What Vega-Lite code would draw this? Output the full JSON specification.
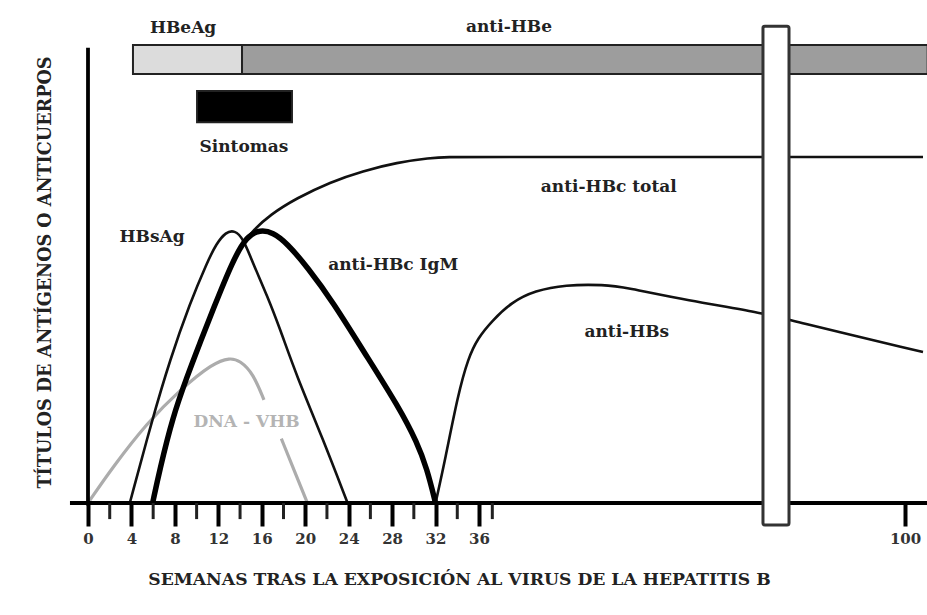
{
  "$schema": "https://vega.github.io/schema/vega-lite/v6.json",
  "width": 839,
  "height": 503,
  "autosize": {"type": "none"},
  "padding": {"left": 88, "top": 0, "right": 0, "bottom": 112},
  "background": "white",
  "config": {"view": {"stroke": null}, "font": "DejaVu Serif"},
  "datasets": {
    "bars": [
      {"name": "HBeAg", "w": 4.14, "w2": 14.18, "v": 91.05, "v2": 85.3, "fill": "#dcdcdc"},
      {"name": "anti-HBe", "w": 14.18, "w2": 103.4, "v": 91.05, "v2": 85.3, "fill": "#9d9d9d"},
      {"name": "Sintomas", "w": 10.04, "w2": 18.78, "v": 81.9, "v2": 75.7, "fill": "#000000"}
    ],
    "curves": [
      {"s": "HBsAg", "g": "a", "w": 3.85, "v": 0},
      {"s": "HBsAg", "g": "a", "w": 5.9, "v": 16.5},
      {"s": "HBsAg", "g": "a", "w": 7.55, "v": 28.5},
      {"s": "HBsAg", "g": "a", "w": 9.4, "v": 39.8},
      {"s": "HBsAg", "g": "a", "w": 10.96, "v": 47.8},
      {"s": "HBsAg", "g": "a", "w": 11.8, "v": 51.5},
      {"s": "HBsAg", "g": "a", "w": 12.7, "v": 53.9},
      {"s": "HBsAg", "g": "a", "w": 13.5, "v": 54.2},
      {"s": "HBsAg", "g": "a", "w": 14.27, "v": 52.7},
      {"s": "HBsAg", "g": "a", "w": 15.2, "v": 47.6},
      {"s": "HBsAg", "g": "a", "w": 16.5, "v": 41.2},
      {"s": "HBsAg", "g": "a", "w": 17.7, "v": 34.5},
      {"s": "HBsAg", "g": "a", "w": 19.2, "v": 25.3},
      {"s": "HBsAg", "g": "a", "w": 21.6, "v": 12.9},
      {"s": "HBsAg", "g": "a", "w": 23.9, "v": 0},

      {"s": "DNA", "g": "a", "w": 0, "v": 0},
      {"s": "DNA", "g": "a", "w": 2.3, "v": 7.2},
      {"s": "DNA", "g": "a", "w": 5.43, "v": 15.9},
      {"s": "DNA", "g": "a", "w": 8.47, "v": 22.5},
      {"s": "DNA", "g": "a", "w": 11.5, "v": 27.8},
      {"s": "DNA", "g": "a", "w": 13.07, "v": 28.9},
      {"s": "DNA", "g": "a", "w": 14.0, "v": 28.3},
      {"s": "DNA", "g": "a", "w": 15.2, "v": 25.8},
      {"s": "DNA", "g": "a", "w": 16.2, "v": 20.5},
      {"s": "DNA", "g": "b", "w": 17.8, "v": 12.8},
      {"s": "DNA", "g": "b", "w": 19.0, "v": 6.4},
      {"s": "DNA", "g": "b", "w": 20.2, "v": 0},

      {"s": "IgM", "g": "a", "w": 5.95, "v": 0},
      {"s": "IgM", "g": "a", "w": 6.6, "v": 6.6},
      {"s": "IgM", "g": "a", "w": 7.8, "v": 17.1},
      {"s": "IgM", "g": "a", "w": 9.1, "v": 25.0},
      {"s": "IgM", "g": "a", "w": 10.3, "v": 31.8},
      {"s": "IgM", "g": "a", "w": 11.5, "v": 38.4},
      {"s": "IgM", "g": "a", "w": 13.35, "v": 48.3},
      {"s": "IgM", "g": "a", "w": 14.64, "v": 53.1},
      {"s": "IgM", "g": "a", "w": 15.84, "v": 54.3},
      {"s": "IgM", "g": "a", "w": 17.03, "v": 53.8},
      {"s": "IgM", "g": "a", "w": 18.3, "v": 51.7},
      {"s": "IgM", "g": "a", "w": 20.2, "v": 46.9},
      {"s": "IgM", "g": "a", "w": 22.6, "v": 39.8},
      {"s": "IgM", "g": "a", "w": 25.3, "v": 30.4},
      {"s": "IgM", "g": "a", "w": 28.7, "v": 18.8},
      {"s": "IgM", "g": "a", "w": 30.3, "v": 12.0},
      {"s": "IgM", "g": "a", "w": 31.2, "v": 6.9},
      {"s": "IgM", "g": "a", "w": 32.0, "v": 0},

      {"s": "total", "g": "a", "w": 5.95, "v": 0},
      {"s": "total", "g": "a", "w": 6.6, "v": 6.6},
      {"s": "total", "g": "a", "w": 7.8, "v": 17.1},
      {"s": "total", "g": "a", "w": 9.1, "v": 25.0},
      {"s": "total", "g": "a", "w": 10.3, "v": 31.8},
      {"s": "total", "g": "a", "w": 11.5, "v": 38.4},
      {"s": "total", "g": "a", "w": 13.35, "v": 48.3},
      {"s": "total", "g": "a", "w": 14.27, "v": 51.6},
      {"s": "total", "g": "a", "w": 15.2, "v": 54.2},
      {"s": "total", "g": "a", "w": 16.76, "v": 57.3},
      {"s": "total", "g": "a", "w": 19.2, "v": 60.6},
      {"s": "total", "g": "a", "w": 22.3, "v": 63.8},
      {"s": "total", "g": "a", "w": 25.3, "v": 66.0},
      {"s": "total", "g": "a", "w": 28.45, "v": 67.7},
      {"s": "total", "g": "a", "w": 31.5, "v": 68.6},
      {"s": "total", "g": "a", "w": 33.06, "v": 68.8},
      {"s": "total", "g": "a", "w": 36.0, "v": 68.8},
      {"s": "total", "g": "a", "w": 102.7, "v": 68.8},

      {"s": "HBs", "g": "a", "w": 32.0, "v": 0},
      {"s": "HBs", "g": "a", "w": 32.87, "v": 8.5},
      {"s": "HBs", "g": "a", "w": 34.07, "v": 21.6},
      {"s": "HBs", "g": "a", "w": 35.0, "v": 28.8},
      {"s": "HBs", "g": "a", "w": 35.9, "v": 32.8},
      {"s": "HBs", "g": "a", "w": 37.95, "v": 36.2},
      {"s": "HBs", "g": "a", "w": 40.96, "v": 40.0},
      {"s": "HBs", "g": "a", "w": 44.4, "v": 42.2},
      {"s": "HBs", "g": "a", "w": 48.9, "v": 43.4},
      {"s": "HBs", "g": "a", "w": 54.9, "v": 43.4},
      {"s": "HBs", "g": "a", "w": 57.9, "v": 42.9},
      {"s": "HBs", "g": "a", "w": 67.2, "v": 40.3},
      {"s": "HBs", "g": "a", "w": 78.66, "v": 37.8},
      {"s": "HBs", "g": "a", "w": 82.4, "v": 36.4},
      {"s": "HBs", "g": "a", "w": 102.7, "v": 30.0}
    ],
    "axislines": [
      {"w": -1.66, "w2": 103.4, "v": 0, "v2": 0},
      {"w": 0, "w2": 0, "v": -0.5, "v2": 90.5}
    ],
    "minor": [
      {"w": 2, "v": 0, "v2": -3.2}, {"w": 6, "v": 0, "v2": -3.2}, {"w": 10, "v": 0, "v2": -3.2},
      {"w": 14, "v": 0, "v2": -3.2}, {"w": 18, "v": 0, "v2": -3.2}, {"w": 22, "v": 0, "v2": -3.2},
      {"w": 26, "v": 0, "v2": -3.2}, {"w": 30, "v": 0, "v2": -3.2}, {"w": 34, "v": 0, "v2": -3.2},
      {"w": 38, "v": 0, "v2": -3.2}
    ],
    "brk": [
      {"w": 78.66, "w2": 82.57, "v": 94.8, "v2": -4.37}
    ],
    "labels": [
      {"t": "HBeAg", "w": 8.75, "v": 94.5, "c": "#222222"},
      {"t": "anti-HBe", "w": 40.5, "v": 94.6, "c": "#222222"},
      {"t": "Sintomas", "w": 14.36, "v": 70.8, "c": "#222222"},
      {"t": "HBsAg", "w": 5.9, "v": 52.9, "c": "#222222"},
      {"t": "anti-HBc IgM", "w": 28.1, "v": 47.3, "c": "#222222"},
      {"t": "anti-HBc total", "w": 55.5, "v": 62.8, "c": "#222222"},
      {"t": "anti-HBs", "w": 58.2, "v": 34.0, "c": "#222222"},
      {"t": "DNA - VHB", "w": 14.6, "v": 16.1, "c": "#b4b4b4"}
    ]
  },
  "encoding": {
    "x": {
      "field": "w", "type": "quantitative",
      "scale": {"domain": [0, 36, 103.3], "range": [0, 391, 839], "nice": false, "zero": false},
      "axis": {
        "values": [0, 4, 8, 12, 16, 20, 24, 28, 32, 36, 100],
        "domain": false, "grid": false,
        "tickSize": 23, "tickWidth": 4, "tickColor": "#000000",
        "labelFont": "DejaVu Serif", "labelFontWeight": "bold", "labelFontSize": 15,
        "labelColor": "#333333", "labelPadding": 5, "labelFlush": false,
        "title": "SEMANAS TRAS LA EXPOSICIÓN AL VIRUS DE LA HEPATITIS B",
        "titleFont": "DejaVu Serif", "titleFontWeight": "bold", "titleFontSize": 17.2,
        "titleColor": "#222222", "titleX": 371, "titleY": 67,
        "titleBaseline": "top", "titleAlign": "center"
      }
    },
    "y": {
      "field": "v", "type": "quantitative",
      "scale": {"domain": [0, 100], "nice": false, "zero": false},
      "axis": {
        "domain": false, "ticks": false, "labels": false, "grid": false,
        "title": "TÍTULOS DE ANTÍGENOS O ANTICUERPOS",
        "titleFont": "DejaVu Serif", "titleFontWeight": "bold", "titleFontSize": 17.6,
        "titleColor": "#222222", "titleX": -43, "titleY": 272, "titleAngle": -90,
        "titleBaseline": "middle", "titleAlign": "center"
      }
    }
  },
  "layer": [
    {
      "data": {"name": "bars"},
      "mark": {"type": "rect", "stroke": "#222222", "strokeWidth": 2},
      "encoding": {
        "x2": {"field": "w2"},
        "y2": {"field": "v2"},
        "fill": {"field": "fill", "type": "nominal", "scale": null}
      }
    },
    {
      "data": {"name": "curves"},
      "transform": [{"filter": "datum.s === 'DNA'"}],
      "mark": {"type": "line", "interpolate": "basis", "color": "#acacac", "strokeWidth": 3.2},
      "encoding": {"detail": {"field": "g", "type": "nominal"}}
    },
    {
      "data": {"name": "curves"},
      "transform": [{"filter": "datum.s === 'HBsAg' || datum.s === 'total' || datum.s === 'HBs'"}],
      "mark": {"type": "line", "interpolate": "basis", "color": "#111111", "strokeWidth": 2.6},
      "encoding": {"detail": {"field": "s", "type": "nominal"}}
    },
    {
      "data": {"name": "curves"},
      "transform": [{"filter": "datum.s === 'IgM'"}],
      "mark": {"type": "line", "interpolate": "basis", "color": "#000000", "strokeWidth": 5.5},
      "encoding": {}
    },
    {
      "data": {"name": "axislines"},
      "mark": {"type": "rule", "color": "#000000", "strokeWidth": 3.8},
      "encoding": {"x2": {"field": "w2"}, "y2": {"field": "v2"}}
    },
    {
      "data": {"name": "minor"},
      "mark": {"type": "rule", "color": "#222222", "strokeWidth": 3},
      "encoding": {"y2": {"field": "v2"}}
    },
    {
      "data": {"name": "brk"},
      "mark": {"type": "rect", "fill": "#ffffff", "stroke": "#333333", "strokeWidth": 3, "cornerRadius": 2},
      "encoding": {"x2": {"field": "w2"}, "y2": {"field": "v2"}}
    },
    {
      "data": {"name": "labels"},
      "mark": {"type": "text", "font": "DejaVu Serif", "fontWeight": "bold", "fontSize": 17, "align": "center", "baseline": "middle"},
      "encoding": {
        "text": {"field": "t", "type": "nominal"},
        "color": {"field": "c", "type": "nominal", "scale": null}
      }
    }
  ]
}
